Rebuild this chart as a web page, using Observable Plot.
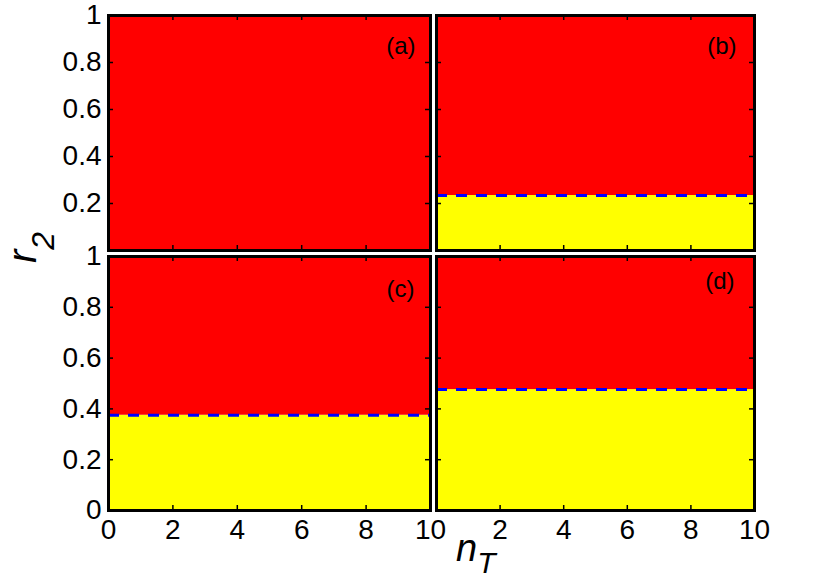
<!DOCTYPE html>
<html><head><meta charset="utf-8">
<script src="https://cdn.jsdelivr.net/npm/d3@7"></script>
<script src="https://cdn.jsdelivr.net/npm/@observablehq/plot@0.6"></script>
<style>
body{margin:0;background:#fff;}
#wrap{position:relative;width:830px;height:578px;overflow:hidden;font-family:"Liberation Sans",Arial,sans-serif;background:#fff;}
#wrap svg{position:absolute;left:0;top:0;}
</style></head><body><div id="wrap"></div>
<script>
// ---- data ----
const panelLabels = ["(a)", "(b)", "(c)", "(d)"];
const boundaries = [0, 0.234, 0.375, 0.476];   // r2 value separating yellow (below) from red (above)
const nTDomain = [0, 10];
const r2Domain = [0, 1];
const tickMarksX = [2, 4, 6, 8];               // inner tick marks along x
const tickMarksY = [0.2, 0.4, 0.6, 0.8];       // inner tick marks along y
const xTicksC = [0, 2, 4, 6, 8, 10];
const xTicksD = [2, 4, 6, 8, 10];
const yTicksA = [0.2, 0.4, 0.6, 0.8, 1];
const yTicksC = [0, 0.2, 0.4, 0.6, 0.8, 1];
const xAxisLabel = "n", xAxisSub = "T";
const yAxisLabel = "r", yAxisSub = "2";

// ---- layout (pixels) ----
const W = 830, H = 578;
const layout = [
  {l:108, r:430, t:15,  b:250, xt:[],      yt:yTicksA, dx:-15, dy:31},
  {l:436, r:754, t:15,  b:250, xt:[],      yt:[],      dx:-18, dy:31},
  {l:108, r:430, t:256, b:510, xt:xTicksC, yt:yTicksC, dx:-16, dy:33},
  {l:436, r:754, t:256, b:510, xt:xTicksD, yt:[],      dx:-20, dy:25}
];
const FONT = "Liberation Sans, Arial, sans-serif";
const wrap = document.getElementById("wrap");

layout.forEach((p, i) => {
  const b = boundaries[i];
  const w = p.r - p.l, h = p.b - p.t;
  const regions = [
    {x1: nTDomain[0], x2: nTDomain[1], y1: r2Domain[0], y2: b, fill: "#ffff00"},
    {x1: nTDomain[0], x2: nTDomain[1], y1: b, y2: r2Domain[1], fill: "#ff0000"}
  ].filter(d => d.y2 > d.y1);
  const marks = [
    Plot.rect(regions, {x1: "x1", x2: "x2", y1: "y1", y2: "y2", fill: d => d.fill}),
  ];
  if (b > 0) marks.push(Plot.ruleY([b], {stroke: "#0000ff", strokeWidth: 3, strokeDasharray: "11,9"}));
  // inward tick marks on all four sides
  marks.push(
    Plot.ruleX(tickMarksX, {x: d => d, insetBottom: h - 5, stroke: "black", strokeWidth: 1.5}),
    Plot.ruleX(tickMarksX, {x: d => d, insetTop: h - 5, stroke: "black", strokeWidth: 1.5}),
    Plot.ruleY(tickMarksY, {y: d => d, insetRight: w - 5, stroke: "black", strokeWidth: 1.5}),
    Plot.ruleY(tickMarksY, {y: d => d, insetLeft: w - 5, stroke: "black", strokeWidth: 1.5}),
    Plot.frame({stroke: "black", strokeWidth: 3}),
    Plot.text([panelLabels[i]], {text: d => d, frameAnchor: "top-right", textAnchor: "end", lineAnchor: "middle",
      dx: p.dx, dy: p.dy, fontSize: 24, fontFamily: FONT, fill: "black"})
  );
  marks.push(p.yt.length
    ? Plot.axisY(p.yt, {anchor: "left", tickSize: 0, tickPadding: 7, fontSize: 28, fontFamily: FONT, label: null, tickFormat: d => String(d)})
    : Plot.axisY({ticks: [], label: null}));
  marks.push(p.xt.length
    ? Plot.axisX(p.xt, {anchor: "bottom", tickSize: 0, tickPadding: 9, fontSize: 28, fontFamily: FONT, label: null, tickFormat: d => String(d)})
    : Plot.axisX({ticks: [], label: null}));
  const chart = Plot.plot({
    width: W, height: H,
    marginLeft: p.l, marginRight: W - p.r, marginTop: p.t, marginBottom: H - p.b,
    x: {domain: nTDomain, nice: false},
    y: {domain: r2Domain, nice: false},
    style: {background: "transparent", overflow: "visible", fontFamily: FONT, color: "black"},
    marks
  });
  wrap.appendChild(chart);
});

// axis titles (real text) in an overlay svg
const ns = "http://www.w3.org/2000/svg";
const svg = document.createElementNS(ns, "svg");
svg.setAttribute("width", W); svg.setAttribute("height", H);
svg.style.overflow = "visible";
function addLabel(main, sub, transform, subDy, size, subSize) {
  const t = document.createElementNS(ns, "text");
  t.setAttribute("transform", transform);
  t.setAttribute("font-family", FONT);
  t.setAttribute("font-style", "italic");
  t.setAttribute("font-size", size);
  t.setAttribute("fill", "black");
  t.appendChild(document.createTextNode(main));
  const s = document.createElementNS(ns, "tspan");
  s.setAttribute("dy", subDy);
  s.setAttribute("font-size", subSize);
  s.textContent = sub;
  t.appendChild(s);
  svg.appendChild(t);
}
addLabel(xAxisLabel, xAxisSub, "translate(456,561)", 12, 38, 30);
addLabel(yAxisLabel, yAxisSub, "translate(36,263) rotate(-90)", 18, 40, 32);
wrap.appendChild(svg);
</script></body></html>
